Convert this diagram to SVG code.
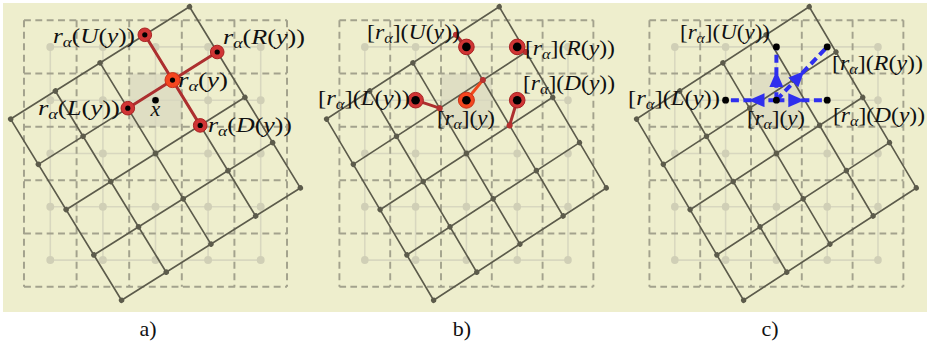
<svg xmlns="http://www.w3.org/2000/svg" xmlns:xlink="http://www.w3.org/1999/xlink" width="931" height="349" viewBox="0 0 931 349">
<style>
text{font-family:"Liberation Serif","DejaVu Serif",serif;font-size:22px;fill:#111}
.i{font-style:italic}
.sub{font-style:italic;font-size:15px}
.shade{fill:#dfdec3}
.lgrid{fill:none;stroke:#d8d7bf;stroke-width:1.6}
.ldots{fill:none;stroke:#d0cfb6;stroke-width:8;stroke-linecap:round}
.dgrid{fill:none;stroke:#a3a28d;stroke-width:2;stroke-dasharray:7 4.5}
.rgrid{fill:none;stroke:#5c5b4b;stroke-width:1.7}
.rdots{fill:none;stroke:#5c5b4b;stroke-width:5.5;stroke-linecap:round}
.redl{fill:none;stroke:#ad2f2f;stroke-width:3}
.orl{fill:none;stroke:#f0481c;stroke-width:3}
.redc{fill:#d03535;stroke:#a82222;stroke-width:1}
.orc{fill:#f4461f;stroke:#c83018;stroke-width:1}
.blk{fill:#000}
.smr{fill:#b83030}
.blue{fill:none;stroke:#2f2fee;stroke-width:4;stroke-dasharray:8 4.5}
</style>
<defs>
<marker id="ah" markerUnits="userSpaceOnUse" markerWidth="18" markerHeight="16" refX="16" refY="7" orient="auto">
<path d="M0 0L16 7L0 14z" fill="#2f2fee"/>
</marker>
<g id="base">
<rect class="shade" x="-26.65" y="-79.95" width="53.3" height="53.3"/>
<path class="lgrid" d="M-106.6 -106.6H106.6M-106.6 -53.3H106.6M-106.6 0H106.6M-106.6 53.3H106.6M-106.6 106.6H106.6M-106.6 -106.6V106.6M-53.3 -106.6V106.6M0 -106.6V106.6M53.3 -106.6V106.6M106.6 -106.6V106.6"/>
<path class="ldots" d="M-106.6 -106.6h0M-53.3 -106.6h0M0 -106.6h0M53.3 -106.6h0M106.6 -106.6h0M-106.6 -53.3h0M-53.3 -53.3h0M0 -53.3h0M53.3 -53.3h0M106.6 -53.3h0M-106.6 0h0M-53.3 0h0M0 0h0M53.3 0h0M106.6 0h0M-106.6 53.3h0M-53.3 53.3h0M0 53.3h0M53.3 53.3h0M106.6 53.3h0M-106.6 106.6h0M-53.3 106.6h0M0 106.6h0M53.3 106.6h0M106.6 106.6h0"/>
<path class="dgrid" d="M-133.25 -133.25H133.25M-133.25 -79.95H133.25M-133.25 -26.65H133.25M-133.25 26.65H133.25M-133.25 79.95H133.25M-133.25 133.25H133.25M-133.25 -133.25V133.25M-79.95 -133.25V133.25M-26.65 -133.25V133.25M26.65 -133.25V133.25M79.95 -133.25V133.25M133.25 -133.25V133.25"/>
<g transform="rotate(-31.8)">
<path class="rgrid" d="M-106.6 -106.6H106.6M-106.6 -53.3H106.6M-106.6 0H106.6M-106.6 53.3H106.6M-106.6 106.6H106.6M-106.6 -106.6V106.6M-53.3 -106.6V106.6M0 -106.6V106.6M53.3 -106.6V106.6M106.6 -106.6V106.6"/>
<path class="rdots" d="M-106.6 -106.6h0M-53.3 -106.6h0M0 -106.6h0M53.3 -106.6h0M106.6 -106.6h0M-106.6 -53.3h0M-53.3 -53.3h0M0 -53.3h0M53.3 -53.3h0M106.6 -53.3h0M-106.6 0h0M-53.3 0h0M0 0h0M53.3 0h0M106.6 0h0M-106.6 53.3h0M-53.3 53.3h0M0 53.3h0M53.3 53.3h0M106.6 53.3h0M-106.6 106.6h0M-53.3 106.6h0M0 106.6h0M53.3 106.6h0M106.6 106.6h0"/>
</g>
</g>
</defs>
<rect x="3" y="3" width="924" height="309" fill="#eeeecd"/>
<g id="grid-a"><use xlink:href="#base" href="#base" transform="translate(155.5 153.5) scale(0.987 1)"/></g>
<g id="grid-b"><use xlink:href="#base" href="#base" transform="translate(466.4 153.5) scale(0.953 1)"/></g>
<g id="grid-c"><use xlink:href="#base" href="#base" transform="translate(776.4 153.5) scale(0.953 1)"/></g>

<g id="connectors">
<path class="redl" d="M144.8 34.8L200.2 125.4M127.8 108.2L217.2 52"/>
<path class="redl" d="M466.4 46.9L456 34.8M517.2 46.9L526 52M415.6 100.2L439.6 108.2M517.2 100.2L509.6 125.4"/>
<path class="orl" d="M466.4 100.2L482.8 80.1"/>
<path class="blue" marker-mid="url(#ah)" d="M776.4 100.2L776.4 70.9L776.4 46.9"/>
<path class="blue" marker-mid="url(#ah)" d="M776.4 100.2L748.5 100.2L725.6 100.2"/>
<path class="blue" marker-mid="url(#ah)" d="M776.4 100.2L804.3 100.2L827.2 100.2"/>
<path class="blue" marker-mid="url(#ah)" d="M776.4 100.2L804.3 70.9L827.2 46.9"/>
</g>

<g id="a-U"><circle class="redc" cx="144.8" cy="34.8" r="6.8"/><circle class="blk" cx="144.8" cy="34.8" r="2.6"/>
<text x="53" y="43" textLength="82" lengthAdjust="spacingAndGlyphs"><tspan class="i">r</tspan><tspan class="sub" dy="4">α</tspan><tspan dy="-4">(</tspan><tspan class="i">U</tspan>(<tspan class="i">y</tspan>))</text></g>
<g id="a-R"><circle class="redc" cx="217.2" cy="52" r="6.8"/><circle class="blk" cx="217.2" cy="52" r="2.6"/>
<text x="223" y="44" textLength="82" lengthAdjust="spacingAndGlyphs"><tspan class="i">r</tspan><tspan class="sub" dy="4">α</tspan><tspan dy="-4">(</tspan><tspan class="i">R</tspan>(<tspan class="i">y</tspan>))</text></g>
<g id="a-L"><circle class="redc" cx="127.8" cy="108.2" r="6.8"/><circle class="blk" cx="127.8" cy="108.2" r="2.6"/>
<text x="38" y="115" textLength="82" lengthAdjust="spacingAndGlyphs"><tspan class="i">r</tspan><tspan class="sub" dy="4">α</tspan><tspan dy="-4">(</tspan><tspan class="i">L</tspan>(<tspan class="i">y</tspan>))</text></g>
<g id="a-D"><circle class="redc" cx="200.2" cy="125.4" r="6.8"/><circle class="blk" cx="200.2" cy="125.4" r="2.6"/>
<text x="208" y="132" textLength="84" lengthAdjust="spacingAndGlyphs"><tspan class="i">r</tspan><tspan class="sub" dy="4">α</tspan><tspan dy="-4">(</tspan><tspan class="i">D</tspan>(<tspan class="i">y</tspan>))</text></g>
<g id="a-y"><circle class="orc" cx="172.5" cy="80.1" r="7.5"/><circle class="blk" cx="172.5" cy="80.1" r="2.6"/>
<text x="178" y="87" textLength="50" lengthAdjust="spacingAndGlyphs"><tspan class="i">r</tspan><tspan class="sub" dy="4">α</tspan><tspan dy="-4">(</tspan><tspan class="i">y</tspan>)</text></g>
<g id="a-x"><circle class="blk" cx="155.5" cy="100.2" r="3.3"/><text class="i" x="155.5" y="116" text-anchor="middle">x</text></g>

<g id="b-U"><circle class="smr" cx="456" cy="34.8" r="3"/><circle class="redc" cx="466.4" cy="46.9" r="7.8"/><circle class="blk" cx="466.4" cy="46.9" r="4.3"/>
<text x="367" y="38.5" textLength="93" lengthAdjust="spacingAndGlyphs">[<tspan class="i">r</tspan><tspan class="sub" dy="4">α</tspan><tspan dy="-4">](</tspan><tspan class="i">U</tspan>(<tspan class="i">y</tspan>))</text></g>
<g id="b-R"><circle class="smr" cx="526" cy="52" r="3"/><circle class="redc" cx="517.2" cy="46.9" r="7.8"/><circle class="blk" cx="517.2" cy="46.9" r="4.3"/>
<text x="525" y="54.5" textLength="90" lengthAdjust="spacingAndGlyphs">[<tspan class="i">r</tspan><tspan class="sub" dy="4">α</tspan><tspan dy="-4">](</tspan><tspan class="i">R</tspan>(<tspan class="i">y</tspan>))</text></g>
<g id="b-L"><circle class="smr" cx="439.6" cy="108.2" r="3"/><circle class="redc" cx="415.6" cy="100.2" r="7.8"/><circle class="blk" cx="415.6" cy="100.2" r="4.3"/>
<text x="318" y="105" textLength="92" lengthAdjust="spacingAndGlyphs">[<tspan class="i">r</tspan><tspan class="sub" dy="4">α</tspan><tspan dy="-4">](</tspan><tspan class="i">L</tspan>(<tspan class="i">y</tspan>))</text></g>
<g id="b-D"><circle class="smr" cx="509.6" cy="125.4" r="3"/><circle class="redc" cx="517.2" cy="100.2" r="7.8"/><circle class="blk" cx="517.2" cy="100.2" r="4.3"/>
<text x="523" y="90" textLength="92" lengthAdjust="spacingAndGlyphs">[<tspan class="i">r</tspan><tspan class="sub" dy="4">α</tspan><tspan dy="-4">](</tspan><tspan class="i">D</tspan>(<tspan class="i">y</tspan>))</text></g>
<g id="b-y"><circle class="smr" cx="482.8" cy="80.1" r="3"/><circle class="orc" cx="466.4" cy="100.2" r="8"/><circle class="blk" cx="466.4" cy="100.2" r="4.3"/>
<text x="437" y="125" textLength="58" lengthAdjust="spacingAndGlyphs">[<tspan class="i">r</tspan><tspan class="sub" dy="4">α</tspan><tspan dy="-4">](</tspan><tspan class="i">y</tspan>)</text></g>

<g id="c-U"><circle class="blk" cx="776.4" cy="46.9" r="3.4"/>
<text x="680" y="38.5" textLength="90" lengthAdjust="spacingAndGlyphs">[<tspan class="i">r</tspan><tspan class="sub" dy="4">α</tspan><tspan dy="-4">](</tspan><tspan class="i">U</tspan>(<tspan class="i">y</tspan>))</text></g>
<g id="c-R"><circle class="blk" cx="827.2" cy="46.9" r="3.4"/>
<text x="832" y="70" textLength="91" lengthAdjust="spacingAndGlyphs">[<tspan class="i">r</tspan><tspan class="sub" dy="4">α</tspan><tspan dy="-4">](</tspan><tspan class="i">R</tspan>(<tspan class="i">y</tspan>))</text></g>
<g id="c-L"><circle class="blk" cx="725.6" cy="100.2" r="3.4"/>
<text x="628" y="105" textLength="92" lengthAdjust="spacingAndGlyphs">[<tspan class="i">r</tspan><tspan class="sub" dy="4">α</tspan><tspan dy="-4">](</tspan><tspan class="i">L</tspan>(<tspan class="i">y</tspan>))</text></g>
<g id="c-D"><circle class="blk" cx="827.2" cy="100.2" r="3.4"/>
<text x="833" y="122" textLength="92" lengthAdjust="spacingAndGlyphs">[<tspan class="i">r</tspan><tspan class="sub" dy="4">α</tspan><tspan dy="-4">](</tspan><tspan class="i">D</tspan>(<tspan class="i">y</tspan>))</text></g>
<g id="c-y"><circle class="blk" cx="776.4" cy="100.2" r="3.4"/>
<text x="747" y="125" textLength="58" lengthAdjust="spacingAndGlyphs">[<tspan class="i">r</tspan><tspan class="sub" dy="4">α</tspan><tspan dy="-4">](</tspan><tspan class="i">y</tspan>)</text></g>

<g id="captions">
<text x="148" y="336" text-anchor="middle">a)</text>
<text x="462" y="336" text-anchor="middle">b)</text>
<text x="770" y="336" text-anchor="middle">c)</text>
</g>
</svg>
